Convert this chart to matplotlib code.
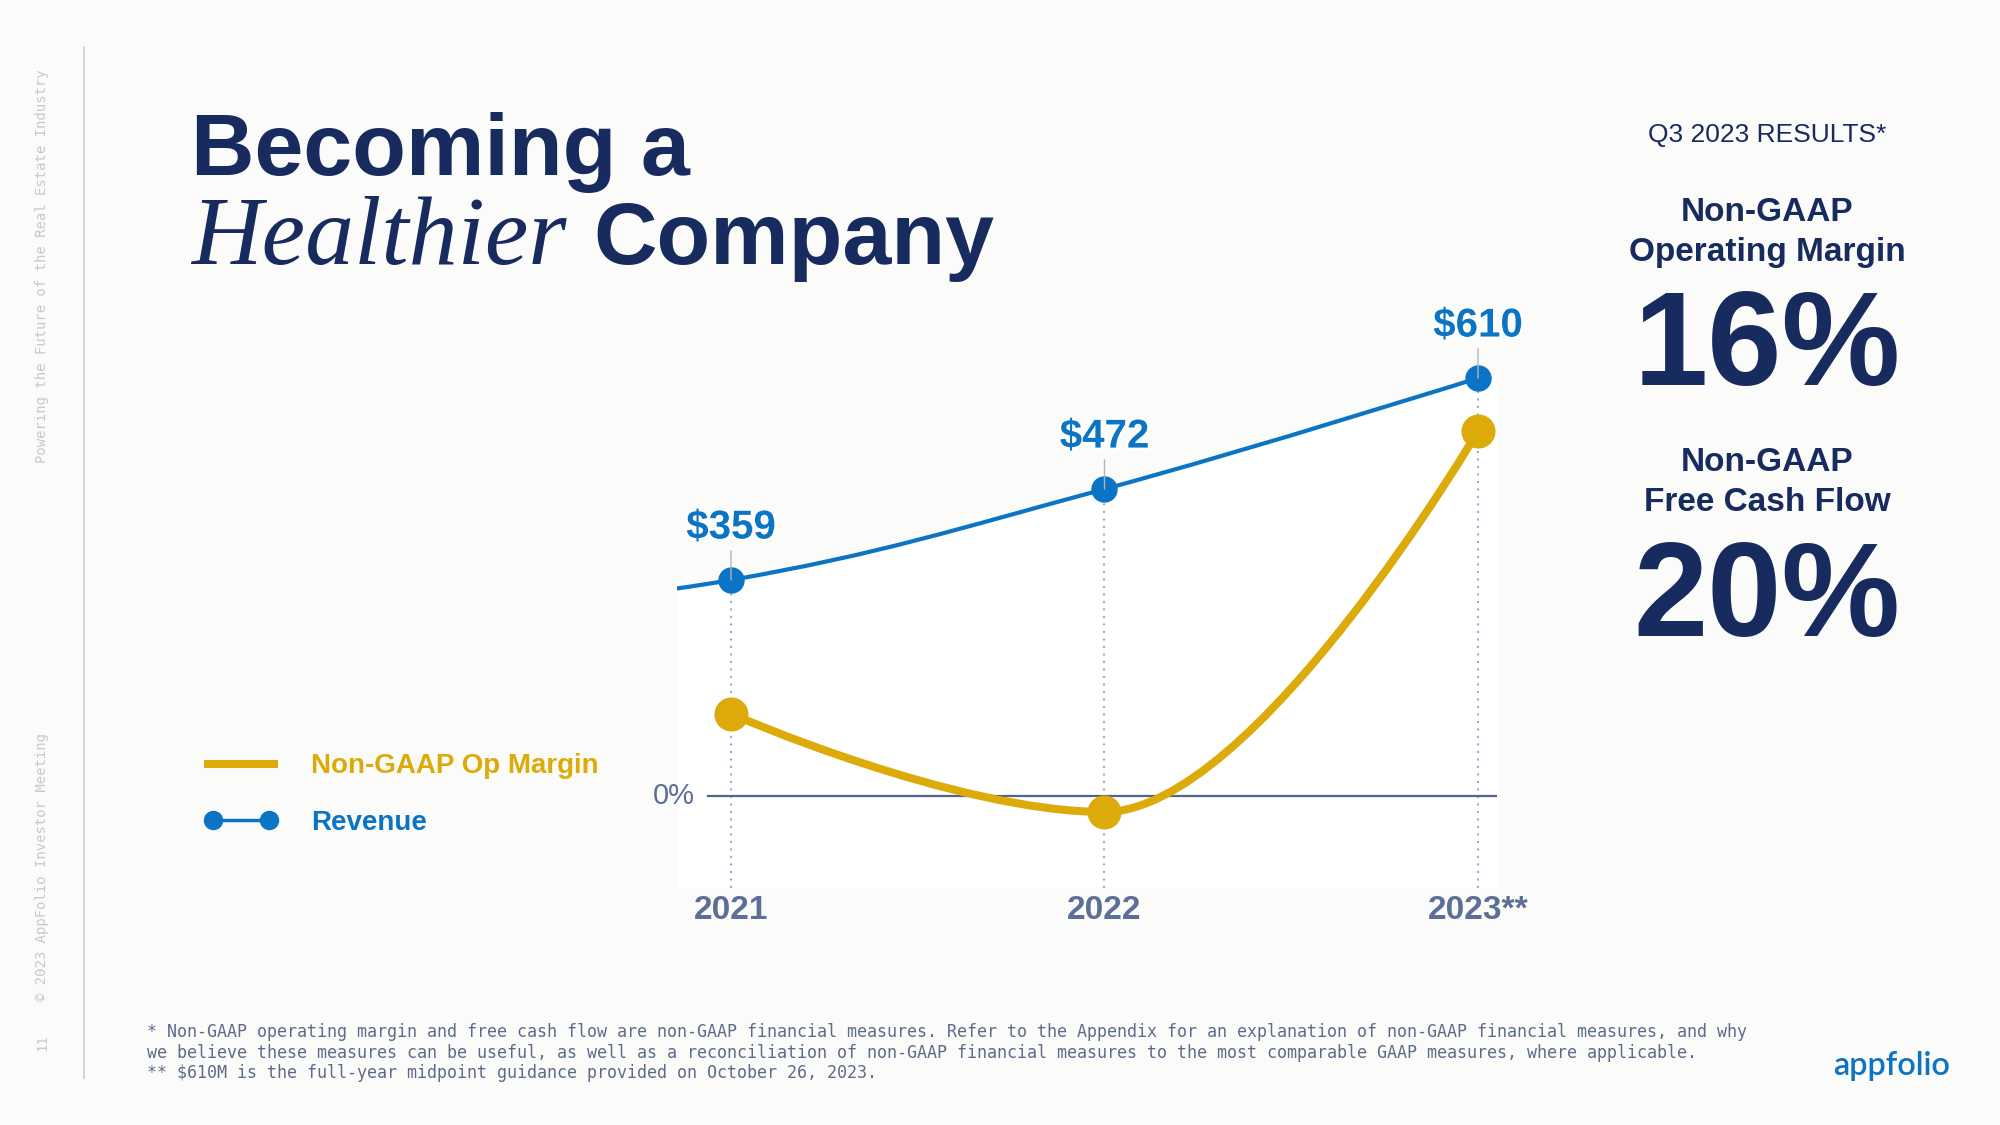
import numpy as np
import matplotlib
matplotlib.use("Agg")
import matplotlib.pyplot as plt
from matplotlib.path import Path
from matplotlib.patches import PathPatch
from matplotlib.lines import Line2D
import matplotlib.patheffects as pe
import matplotlib.transforms as mtransforms

# ---------------- data ----------------
YEARS = ["2021", "2022", "2023**"]
REVENUE = [359, 472, 610]                 # $M
REVENUE_LABELS = ["$359", "$472", "$610"]
REVENUE_2020 = 310                        # lead-in point, off the left edge
OP_MARGIN = [3.6, -0.7, 16.0]             # %
RESULT_TITLES = [["Non-GAAP", "Operating Margin"], ["Non-GAAP", "Free Cash Flow"]]
RESULT_VALUES = ["16%", "20%"]
FOOTNOTES = [
    "* Non-GAAP operating margin and free cash flow are non-GAAP financial measures. Refer to the Appendix for an explanation of non-GAAP financial measures, and why",
    "we believe these measures can be useful, as well as a reconciliation of non-GAAP financial measures to the most comparable GAAP measures, where applicable.",
    "** $610M is the full-year midpoint guidance provided on October 26, 2023.",
]

# ---------------- style ----------------
W, H, DPI = 2000, 1125, 100
BG = "#fbfbf9"
NAVY = "#182b5f"
BLUE = "#0b74c4"
GOLD = "#dcaa09"
SLATE = "#5c6f96"
SANS = ["Liberation Sans", "DejaVu Sans"]
SERIF = ["Liberation Serif", "DejaVu Serif"]
MONO = ["DejaVu Sans Mono"]

fig = plt.figure(figsize=(W / DPI, H / DPI), dpi=DPI, facecolor=BG)


def fx(px):
    return px / W


def fy(py):
    return 1 - py / H


# ---------------- chart axes ----------------
L, R, T, B = 677, 1497, 300, 888
axm = fig.add_axes([fx(L), fy(B), (R - L) / W, (B - T) / H])
axr = axm.twinx()
axm.set_zorder(2)
axr.set_zorder(1)
axm.patch.set_visible(False)
axr.patch.set_visible(False)

X = np.arange(len(YEARS))
axm.set_xlim(-0.1446, 2.0509)
axm.set_ylim(-4.035, 21.75)
axr.set_ylim(-23.8, 707.0)

for a in (axm, axr):
    for s in a.spines.values():
        s.set_visible(False)
    a.set_yticks([])
axm.set_xticks(X, YEARS)
axm.tick_params(axis="x", length=0, pad=5)
for lab in axm.get_xticklabels():
    lab.set_fontfamily(SANS)
    lab.set_fontweight("bold")
    lab.set_fontsize(24)
    lab.set_color(SLATE)


def hc_spline(ax, xs, ys, smoothing=1.5):
    pts = ax.transData.transform(np.column_stack([xs, ys]))
    n = len(pts)
    lc = [None] * n
    rc = [None] * n
    den = smoothing + 1
    for i in range(1, n - 1):
        lx, ly = pts[i - 1]
        px, py = pts[i]
        nx, ny = pts[i + 1]
        lcx = (smoothing * px + lx) / den
        lcy = (smoothing * py + ly) / den
        rcx = (smoothing * px + nx) / den
        rcy = (smoothing * py + ny) / den
        corr = (rcy - lcy) * (rcx - px) / (rcx - lcx) + py - rcy
        lcy += corr
        rcy += corr
        if lcy > ly and lcy > py:
            lcy = max(ly, py); rcy = 2 * py - lcy
        elif lcy < ly and lcy < py:
            lcy = min(ly, py); rcy = 2 * py - lcy
        if rcy > ny and rcy > py:
            rcy = max(ny, py); lcy = 2 * py - rcy
        elif rcy < ny and rcy < py:
            rcy = min(ny, py); lcy = 2 * py - rcy
        lc[i] = (lcx, lcy)
        rc[i] = (rcx, rcy)
    verts = [tuple(pts[0])]
    codes = [Path.MOVETO]
    for i in range(1, n):
        c1 = rc[i - 1] if rc[i - 1] is not None else tuple(pts[i - 1])
        c2 = lc[i] if lc[i] is not None else tuple(pts[i])
        verts += [c1, c2, tuple(pts[i])]
        codes += [Path.CURVE4] * 3
    return np.array(verts), codes


# revenue spline (with off-chart 2020 lead-in)
rx = np.concatenate([[-1], X])
ry = np.concatenate([[REVENUE_2020], REVENUE])
rv, rcodes = hc_spline(axr, rx, ry)
inv = axr.transData.inverted()

# white area beneath revenue line
ybot = axr.transData.transform((0, axr.get_ylim()[0]))[1]
xright = axr.transAxes.transform((1, 0))[0]
area_v = np.vstack([rv, [[xright, rv[-1][1]], [xright, ybot], [rv[0][0], ybot], rv[0]]])
area_c = rcodes + [Path.LINETO, Path.LINETO, Path.LINETO, Path.CLOSEPOLY]
axr.add_patch(PathPatch(Path(inv.transform(area_v), area_c), facecolor="white",
                        edgecolor="none", zorder=0))

# dotted verticals
axr.vlines(X, axr.get_ylim()[0], REVENUE, colors="#8db2da", linestyles=(0, (1, 2.6)),
           lw=1.5, zorder=1)

axr.add_patch(PathPatch(Path(inv.transform(rv), rcodes), facecolor="none",
                        edgecolor=BLUE, lw=3.0, capstyle="round", zorder=3))
axr.plot(X, REVENUE, "o", ms=18, color=BLUE, zorder=4, clip_on=False)

for xi, v, lab in zip(X, REVENUE, REVENUE_LABELS):
    axr.annotate(lab, xy=(xi, v), xytext=(0, 37.8), textcoords="offset points",
                 ha="center", va="center", fontsize=29, fontweight="bold",
                 family=SANS, color=BLUE, annotation_clip=False, zorder=5,
                 path_effects=[pe.withStroke(linewidth=3.5, foreground="white")],
                 arrowprops=dict(arrowstyle="-", color="#b5b5b5", lw=1.0,
                                 shrinkA=1, shrinkB=0))

# 0% baseline
axm.axhline(0, xmin=(708 - L) / (R - L), xmax=(1496 - L) / (R - L), color="#51638f",
            lw=1.6, zorder=1)
axm.text((695 - L) / (R - L), 0, "0%", transform=mtransforms.blended_transform_factory(
    axm.transAxes, axm.transData), ha="right", va="center", fontsize=21,
    family=SANS, color="#5c6f96")

# op margin spline
mv, mcodes = hc_spline(axm, X, OP_MARGIN)
axm.add_patch(PathPatch(Path(axm.transData.inverted().transform(mv), mcodes),
                        facecolor="none", edgecolor=GOLD, lw=5.8, capstyle="round",
                        zorder=3))
axm.plot(X, OP_MARGIN, "o", ms=23.5, color=GOLD, zorder=4, clip_on=False)

# ---------------- legend ----------------
fig.add_artist(Line2D([fx(204), fx(278)], [fy(764), fy(764)], color=GOLD, lw=5.8,
                      solid_capstyle="butt"))
fig.text(fx(311), fy(773), "Non-GAAP Op Margin", ha="left", va="baseline", fontsize=20,
         fontweight="bold", family=SANS, color=GOLD)
fig.add_artist(Line2D([fx(213), fx(269)], [fy(820), fy(820)], color=BLUE, lw=2.5,
                      marker="o", ms=13, markevery=[0, 1]))
fig.text(fx(311), fy(830), "Revenue", ha="left", va="baseline", fontsize=20,
         fontweight="bold", family=SANS, color=BLUE)

# ---------------- title ----------------
fig.text(fx(191), fy(175), "Becoming a", ha="left", va="baseline", fontsize=63.4,
         fontweight="bold", family=SANS, color=NAVY)
fig.text(fx(191), fy(264), "Healthier", ha="left", va="baseline", fontsize=70.5,
         style="italic", family=SERIF, color=NAVY)
fig.text(fx(593), fy(264), "Company", ha="left", va="baseline", fontsize=63.4,
         fontweight="bold", family=SANS, color=NAVY)

# ---------------- right panel ----------------
CX = 1767
fig.text(fx(CX), fy(142), "Q3 2023 RESULTS*", ha="center", va="baseline", fontsize=19,
         family=SANS, color=NAVY)
title_base = [(221, 261), (471, 511)]
value_base = [385, 636]
for (t1, t2), (b1, b2), val, vb in zip(RESULT_TITLES, title_base, RESULT_VALUES, value_base):
    fig.text(fx(CX), fy(b1), t1, ha="center", va="baseline", fontsize=24,
             fontweight="bold", family=SANS, color=NAVY)
    fig.text(fx(CX), fy(b2), t2, ha="center", va="baseline", fontsize=24,
             fontweight="bold", family=SANS, color=NAVY)
    fig.text(fx(CX), fy(vb), val, ha="center", va="baseline", fontsize=96,
             fontweight="bold", family=SANS, color=NAVY)

# ---------------- footer ----------------
for i, line in enumerate(FOOTNOTES):
    fig.text(fx(147), fy(1032 + i * 20.5), line, ha="left", va="center", fontsize=12,
             family=MONO, color="#5d6b8a")

logo = fig.text(fx(1892), fy(1066), "appfolio", ha="center", va="center", fontsize=22,
                family=["Lato", "DejaVu Sans"], color=BLUE, fontweight="semibold")
renderer = fig.canvas.get_renderer()
w = logo.get_window_extent(renderer).width
logo.set_fontsize(22 * 117 / w)

# ---------------- side band ----------------
fig.add_artist(Line2D([fx(84), fx(84)], [fy(47), fy(1078)], color="#c9ccd6", lw=1.2))
side = "#c8c8c8"
fig.text(fx(42), fy(266), "Powering the Future of the Real Estate Industry", rotation=90,
         ha="center", va="center", fontsize=10, family=MONO, color=side)
fig.text(fx(42), fy(867), "\u00a9 2023 AppFolio Investor Meeting", rotation=90,
         ha="center", va="center", fontsize=10, family=MONO, color=side)
fig.text(fx(42), fy(1043), "11", rotation=90, ha="center", va="center", fontsize=10,
         family=MONO, color=side)

fig.savefig("out.png", dpi=DPI, facecolor=BG)
